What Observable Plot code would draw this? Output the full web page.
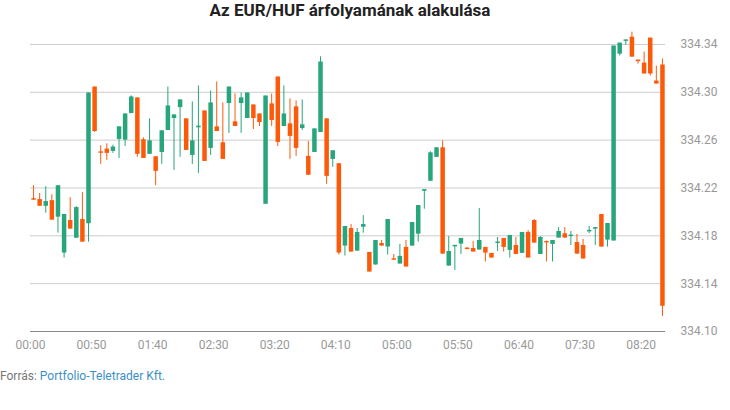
<!DOCTYPE html>
<html><head><meta charset="utf-8">
<script src="https://cdn.jsdelivr.net/npm/d3@7"></script>
<script src="https://cdn.jsdelivr.net/npm/@observablehq/plot@0.6"></script>
<style>
body{margin:0;background:#fff;font-family:Roboto,sans-serif;}
#title{height:24px;line-height:20px;text-align:center;font-weight:bold;font-size:17px;color:#222;width:700px;}
#caption{margin-top:7px;font-size:12px;line-height:16px;color:#777;}
#caption span{color:#3b8fc7;}
</style></head><body>
<div id="title">Az EUR/HUF árfolyamának alakulása</div>
<div id="chart"></div>
<div id="caption">Forrás: <span>Portfolio-Teletrader Kft.</span></div>
<script>
const times = [
"00:00","00:05","00:10","00:15","00:20","00:25","00:30","00:35","00:40","00:45","00:50","00:55",
"01:00","01:05","01:10","01:15","01:20","01:25","01:30","01:35","01:40","01:45","01:50","01:55",
"02:00","02:05","02:10","02:15","02:20","02:25","02:30","02:35","02:40","02:45","02:50","02:55",
"03:00","03:05","03:10","03:15","03:20","03:25","03:30","03:35","03:40","03:45","03:50","03:55",
"04:00","04:05","04:10","04:15","04:20","04:25","04:30","04:35","04:40","04:45","04:50","04:55",
"05:00","05:05","05:10","05:15","05:20","05:25","05:30","05:35","05:40","05:45","05:50","05:55",
"06:00","06:05","06:10","06:15","06:20","06:25","06:30","06:35","06:40","06:45","06:50","06:55",
"07:00","07:05","07:10","07:15","07:20","07:25","07:30","07:35","07:40","07:45","07:50","07:55",
"08:00","08:05","08:10","08:15","08:20","08:25","08:30","08:35"];
const open = [
334.2110,334.2103,334.2047,334.2094,334.1956,334.1656,334.1928,334.1780,334.1936,334.1900,
334.3044,334.2502,334.2525,334.2506,334.2606,334.2600,334.2822,334.2953,334.2603,334.2481,
334.2461,334.2497,334.2681,334.2781,334.2872,334.2778,334.2472,334.2703,334.2844,334.2531,
334.2711,334.2578,334.2906,334.2753,334.2906,334.2781,334.2894,334.2819,334.2064,334.2903,
334.3128,334.2714,334.2736,334.2878,334.2697,334.2464,334.2497,334.2664,334.2778,334.2439,
334.2403,334.1714,334.1861,334.1672,334.1872,334.1661,334.1556,334.1736,334.1706,334.1608,
334.1564,334.1703,334.1714,334.1814,334.2172,334.2256,334.2456,334.2536,334.1547,334.1708,
334.1731,334.1697,334.1694,334.1681,334.1703,334.1653,334.1736,334.1778,334.1678,334.1719,
334.1653,334.1828,334.1928,334.1644,334.1753,334.1728,334.1781,334.1817,334.1794,334.1744,
334.1719,334.1833,334.1856,334.1978,334.1764,334.1756,334.3319,334.3426,334.3461,334.3269,
334.3244,334.3453,334.3094,334.3228];
const high = [
334.2219,334.2153,334.2211,334.2144,334.2219,334.1978,334.2119,334.2044,334.2161,334.2994,
334.3044,334.2553,334.2569,334.2558,334.2711,334.2819,334.2970,334.2953,334.2619,334.2778,
334.2461,334.2678,334.3044,334.2811,334.2936,334.2778,334.2919,334.3053,334.2844,334.3011,
334.3086,334.2911,334.3044,334.2986,334.2994,334.2994,334.2894,334.2819,334.2969,334.2986,
334.3128,334.3053,334.2944,334.2928,334.2936,334.2589,334.2694,334.3297,334.2778,334.2511,
334.2403,334.1878,334.1894,334.1861,334.1969,334.1661,334.1761,334.1761,334.1936,334.1644,
334.1728,334.1761,334.1911,334.2053,334.2186,334.2503,334.2536,334.2594,334.1794,334.1720,
334.1778,334.1703,334.1753,334.2028,334.1703,334.1653,334.1786,334.1778,334.1803,334.1786,
334.1828,334.1844,334.1936,334.1794,334.1756,334.1761,334.1869,334.1869,334.1836,334.1811,
334.1769,334.1878,334.1869,334.1978,334.1903,334.3386,334.3411,334.3438,334.3503,334.3269,
334.3336,334.3453,334.3219,334.3278];
const low = [
334.2097,334.2047,334.1989,334.1931,334.1822,334.1614,334.1856,334.1780,334.1747,334.1747,
334.2664,334.2397,334.2431,334.2489,334.2447,334.2547,334.2822,334.2456,334.2447,334.2481,
334.2219,334.2397,334.2681,334.2347,334.2456,334.2514,334.2397,334.2322,334.2422,334.2472,
334.2672,334.2439,334.2656,334.2714,334.2656,334.2781,334.2689,334.2714,334.2064,334.2714,
334.2547,334.2714,334.2439,334.2464,334.2681,334.2306,334.2497,334.2664,334.2231,334.2372,
334.1639,334.1631,334.1664,334.1672,334.1822,334.1497,334.1556,334.1714,334.1639,334.1596,
334.1564,334.1539,334.1714,334.1747,334.2022,334.2256,334.2456,334.1647,334.1547,334.1511,
334.1644,334.1685,334.1664,334.1681,334.1581,334.1614,334.1669,334.1664,334.1614,334.1644,
334.1653,334.1614,334.1739,334.1644,334.1581,334.1581,334.1781,334.1781,334.1719,334.1647,
334.1606,334.1819,334.1719,334.1706,334.1706,334.1756,334.3303,334.3394,334.3294,334.3236,
334.3153,334.3136,334.3069,334.1125];
const close = [
334.2098,334.2047,334.2086,334.1931,334.2219,334.1978,334.1856,334.2036,334.1747,334.2994,
334.2672,334.2490,334.2489,334.2542,334.2711,334.2819,334.2961,334.2481,334.2447,334.2594,
334.2339,334.2678,334.2886,334.2811,334.2936,334.2514,334.2594,334.2717,334.2422,334.2911,
334.2672,334.2439,334.3044,334.2714,334.2953,334.2994,334.2781,334.2747,334.2969,334.2764,
334.2581,334.2819,334.2631,334.2531,334.2728,334.2306,334.2694,334.3253,334.2297,334.2511,
334.1656,334.1878,334.1664,334.1828,334.1894,334.1497,334.1761,334.1714,334.1936,334.1596,
334.1628,334.1539,334.1911,334.2053,334.2186,334.2494,334.2536,334.1647,334.1669,334.1720,
334.1778,334.1685,334.1664,334.1761,334.1656,334.1614,334.1748,334.1703,334.1803,334.1644,
334.1828,334.1614,334.1739,334.1786,334.1741,334.1761,334.1836,334.1781,334.1806,334.1647,
334.1606,334.1845,334.1869,334.1706,334.1903,334.3386,334.3411,334.3438,334.3294,334.3256,
334.3153,334.3153,334.3069,334.1211];
const intervalMinutes = 5;
const xTickLabels = ["00:00","00:50","01:40","02:30","03:20","04:10","05:00","05:50","06:40","07:30","08:20"];
const yTicks = [334.10,334.14,334.18,334.22,334.26,334.30,334.34];

const toMin = s => { const [h, m] = s.split(":"); return +h * 60 + +m; };
const fmt = m => String(Math.floor(m / 60)).padStart(2, "0") + ":" + String(m % 60).padStart(2, "0");
// each candle sits at the middle of its 5-minute interval
const data = times.map((t, i) => ({t: toMin(t) + intervalMinutes / 2, open: open[i], high: high[i], low: low[i], close: close[i], up: close[i] > open[i]}));
const UP = "#27a57c", DOWN = "#fc5a0a";

const chart = Plot.plot({
  width: 730, height: 337,
  marginLeft: 30, marginRight: 65, marginTop: 5, marginBottom: 30,
  x: {type: "linear", domain: [0, 520], label: null},
  y: {domain: [334.10, 334.3525], label: null},
  color: {domain: [false, true], range: [DOWN, UP]},
  style: {fontFamily: "Roboto, sans-serif", fontSize: "12px", color: "#999", background: "#fff"},
  marks: [
    Plot.gridY(yTicks.slice(1), {stroke: "#cccccc", strokeOpacity: 1}),
    Plot.ruleY([yTicks[0]], {stroke: "#8a8a8a"}),
    Plot.ruleX(data, {x: "t", y1: "low", y2: "high", stroke: "up", strokeWidth: 1}),
    Plot.ruleX(data, {x: "t", y1: "open", y2: "close", stroke: "up", strokeWidth: 4.5}),
    Plot.axisX({ticks: xTickLabels.map(toMin), tickFormat: fmt, tickSize: 0, tickPadding: 9, fill: "#999", label: null}),
    Plot.axisY({anchor: "right", ticks: yTicks, tickFormat: d => d.toFixed(2), tickSize: 0, tickPadding: 15, fill: "#999", label: null})
  ]
});
document.getElementById("chart").appendChild(chart);
</script>
</body></html>
